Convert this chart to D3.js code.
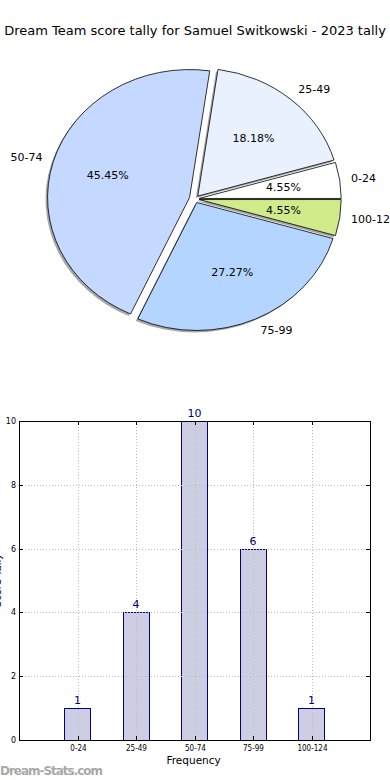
<!DOCTYPE html>
<html>
<head>
<meta charset="utf-8">
<script src="https://cdn.jsdelivr.net/npm/d3@7"></script>
<style>
  body { margin: 0; background: #fff; }
  svg { display: block; font-family: "DejaVu Sans", sans-serif; }
</style>
</head>
<body>
<svg id="chart" width="390" height="780"></svg>
<script>
var categories = ['0-24', '25-49', '50-74', '75-99', '100-124']
var counts = [1, 4, 10, 6, 1]
var pieColors = ['#ffffff', '#e9f1ff', '#c5d8ff', '#b3d5ff', '#d0eb8a']
var explode = [0.03, 0.03, 0.04, 0.03, 0.03]
var yTicks = [0, 2, 4, 6, 8, 10]

var svg = d3.select('#chart')

svg.append('text')
  .attr('x', 195).attr('y', 35)
  .attr('text-anchor', 'middle')
  .style('font-size', '13px')
  .text('Dream Team score tally for Samuel Switkowski - 2023 tally')

// ---- pie (matplotlib style, counter-clockwise from 3 o'clock, squashed) ----
var cx = 195, cy = 199, rx = 142, ry = 128
var total = d3.sum(counts)
var pie = d3.pie().sort(null)
  .startAngle(Math.PI / 2).endAngle(Math.PI / 2 - 2 * Math.PI)
var arcs = pie(counts)
var arc = d3.arc().innerRadius(0).outerRadius(rx)

var pg = svg.append('g')

arcs.forEach(function (d, i) {
  var mid = (d.startAngle + d.endAngle) / 2
  // d3 angle: 0 at 12 o'clock clockwise; convert to math angle
  var theta = Math.PI / 2 - mid
  var dx = explode[i] * rx * Math.cos(theta)
  var dy = -explode[i] * ry * Math.sin(theta)
  var tr = 'translate(' + (cx + dx) + ',' + (cy + dy) + ') scale(1,' + (ry / rx) + ')'
  pg.append('path')
    .attr('d', arc({ startAngle: Math.min(d.startAngle, d.endAngle), endAngle: Math.max(d.startAngle, d.endAngle) }))
    .attr('transform', 'translate(-2,2) ' + tr)
    .attr('fill', '#8a8a8a')
    .attr('opacity', 0.75)
  d.tr = tr
  d.theta = theta
  d.dx = dx
  d.dy = dy
})

arcs.forEach(function (d, i) {
  pg.append('path')
    .attr('d', arc({ startAngle: Math.min(d.startAngle, d.endAngle), endAngle: Math.max(d.startAngle, d.endAngle) }))
    .attr('transform', d.tr)
    .attr('fill', pieColors[i])
    .attr('stroke', '#000')
    .attr('stroke-width', 0.8)
    .attr('vector-effect', 'non-scaling-stroke')
})

arcs.forEach(function (d, i) {
  var c = Math.cos(d.theta), s = Math.sin(d.theta)
  var px = cx + d.dx + 0.6 * rx * c
  var py = cy + d.dy - 0.6 * ry * s
  pg.append('text')
    .attr('x', px).attr('y', py)
    .attr('text-anchor', 'middle')
    .attr('dominant-baseline', 'central')
    .style('font-size', '11px')
    .text((counts[i] / total * 100).toFixed(2) + '%')
  var lx = cx + d.dx + 1.08 * rx * c
  var ly = cy + d.dy - 1.1 * ry * s
  pg.append('text')
    .attr('x', lx).attr('y', ly)
    .attr('text-anchor', c >= 0 ? 'start' : 'end')
    .attr('dominant-baseline', 'central')
    .style('font-size', '11px')
    .text(categories[i])
})

// ---- bar chart ----
var axLeft = 19, axRight = 370, axTop = 421, axBottom = 740
var x = d3.scaleLinear().domain([0, categories.length + 1]).range([axLeft, axRight])
var y = d3.scaleLinear().domain([0, 10]).range([axBottom, axTop])
var barW = x(0.45) - x(0)

var bg = svg.append('g')

bg.selectAll('.bar').data(counts).enter().append('rect')
  .attr('class', 'bar')
  .attr('x', function (d, i) { return Math.round(x(i + 1) - barW / 2) + 0.5 })
  .attr('y', function (d) { return Math.round(y(d)) + 0.5 })
  .attr('width', Math.round(barW))
  .attr('height', function (d) { return Math.round(y(0)) - Math.round(y(d)) })
  .attr('fill', '#cdcde3')
  .attr('stroke', '#000080')
  .attr('stroke-width', 1)

// grid on top of bars
bg.selectAll('.vgrid').data(categories).enter().append('line')
  .attr('x1', function (d, i) { return Math.round(x(i + 1)) + 0.5 })
  .attr('x2', function (d, i) { return Math.round(x(i + 1)) + 0.5 })
  .attr('y1', axTop).attr('y2', axBottom)
  .attr('stroke', '#bbbbbb').attr('stroke-dasharray', '1,2')

bg.selectAll('.hgrid').data(yTicks).enter().append('line')
  .attr('x1', axLeft).attr('x2', axRight)
  .attr('y1', function (d) { return Math.round(y(d)) + 0.5 })
  .attr('y2', function (d) { return Math.round(y(d)) + 0.5 })
  .attr('stroke', '#bbbbbb').attr('stroke-dasharray', '1,2')

// inward ticks on all four sides
yTicks.forEach(function (t) {
  var yy = Math.round(y(t)) + 0.5
  bg.append('line').attr('x1', axLeft).attr('x2', axLeft + 4).attr('y1', yy).attr('y2', yy).attr('stroke', '#000')
  bg.append('line').attr('x1', axRight - 4).attr('x2', axRight).attr('y1', yy).attr('y2', yy).attr('stroke', '#000')
  bg.append('text')
    .attr('x', axLeft - 3).attr('y', yy)
    .attr('text-anchor', 'end').attr('dominant-baseline', 'central')
    .style('font-size', '8px')
    .text(t)
})
categories.forEach(function (c, i) {
  var xx = Math.round(x(i + 1)) + 0.5
  bg.append('line').attr('x1', xx).attr('x2', xx).attr('y1', axBottom).attr('y2', axBottom - 4).attr('stroke', '#000')
  bg.append('line').attr('x1', xx).attr('x2', xx).attr('y1', axTop).attr('y2', axTop + 4).attr('stroke', '#000')
  bg.append('text')
    .attr('x', xx).attr('y', axBottom + 11)
    .attr('text-anchor', 'middle')
    .style('font-size', '8px')
    .style('font-family', '"DejaVu Sans Condensed", "DejaVu Sans", sans-serif')
    .text(c)
})

bg.append('rect')
  .attr('x', axLeft + 0.5).attr('y', axTop + 0.5)
  .attr('width', axRight - axLeft).attr('height', axBottom - axTop)
  .attr('fill', 'none').attr('stroke', '#000').attr('stroke-width', 1)

bg.selectAll('.val').data(counts).enter().append('text')
  .attr('x', function (d, i) { return x(i + 1) })
  .attr('y', function (d) { return y(d) - 4 })
  .attr('text-anchor', 'middle')
  .attr('fill', '#000080')
  .style('font-size', '11px')
  .text(function (d) { return d })

bg.append('text')
  .attr('x', x(3) - 28).attr('y', 764)
  .style('font-size', '10.5px')
  .text('Frequency')

bg.append('text')
  .attr('transform', 'translate(1,' + ((axTop + axBottom) / 2) + ') rotate(-90)')
  .attr('text-anchor', 'middle')
  .style('font-size', '10px')
  .text('Score Tally')

svg.append('text')
  .attr('x', 0).attr('y', 775)
  .style('font-size', '12px')
  .style('font-weight', '600')
  .attr('fill', '#a8a8a8')
  .attr('textLength', 103)
  .text('Dream-Stats.com')
</script>
</body>
</html>
